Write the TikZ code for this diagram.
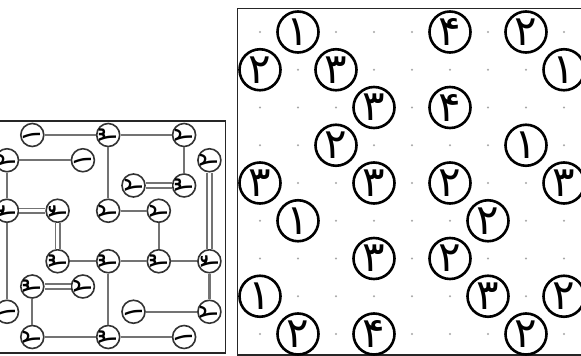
\documentclass[tikz,border=0pt]{standalone}
\usepackage{fontspec}
\newfontfamily\fadigits[Script=Arabic]{DejaVu Sans}
\usetikzlibrary{positioning}

\tikzset{
  frame/.style={draw=black!85, line width=1.3pt},
  isle/.style={circle, draw=black, line width=2.6pt, fill=white, minimum size=41pt, inner sep=0pt, font=\fadigits\fontsize{42}{42}\selectfont},
  solisle/.style={circle, draw=black!80, line width=1.6pt, fill=white, minimum size=23pt, inner sep=0pt, rotate=90, font=\fadigits\fontsize{27}{27}\selectfont},
  gridpt/.style={fill=black!35},
  bridge/.style={draw=black!55, line width=2.2pt},
  dblbridge/.style={draw=black!55, line width=1.7pt, double=white, double distance=2.8pt}
}

\begin{document}
\begin{tikzpicture}[x=1pt, y=-1pt]
  \useasboundingbox (0,0) rectangle (581,356);
  \fill[white] (0,0) rectangle (581,356);

  % solved grid (left)
  \begin{scope}[shift={(7pt,-135pt)}, x=25.3pt, y=-25.25pt]
    \draw[frame] (-0.66,-0.55) rectangle (8.64,8.63);
    \foreach \R/\C/\d in {7/0/۱, 3/0/۴, 1/0/۲, 8/1/۲, 6/1/۳, 0/1/۱, 5/2/۳, 3/2/۴,
                          6/3/۲, 1/3/۱, 8/4/۳, 5/4/۳, 3/4/۲, 0/4/۳, 7/5/۱, 2/5/۲,
                          5/6/۳, 3/6/۲, 8/7/۱, 2/7/۳, 0/7/۲, 7/8/۲, 5/8/۴, 1/8/۲}
      \node[solisle] (s\R\C) at (\C,\R) {\d};
    % single bridges
    \foreach \a/\b in {s01/s04, s04/s07, s04/s34, s07/s27, s10/s13, s10/s30,
                       s30/s70, s34/s36, s36/s56, s52/s54, s54/s56, s56/s58,
                       s54/s84, s58/s78, s61/s81, s75/s78, s81/s84, s84/s87}
      \draw[bridge] (\a) -- (\b);
    % double bridges
    \foreach \a/\b in {s18/s58, s25/s27, s30/s32, s32/s52, s61/s63}
      \draw[dblbridge] (\a) -- (\b);
  \end{scope}

  % puzzle grid (right)
  \begin{scope}[shift={(260pt,-32pt)}, x=38pt, y=-37.75pt]
    \draw[frame] (-0.6,-0.63) rectangle (8.65,8.56);
    \foreach \r in {0,...,8}
      \foreach \c in {0,...,8}
        \fill[gridpt] (\c,\r) circle (1.1pt);
    \foreach \r/\c/\d in {0/1/۱, 0/5/۴, 0/7/۲, 1/0/۲, 1/2/۳, 1/8/۱, 2/3/۳, 2/5/۴,
                          3/2/۲, 3/7/۱, 4/0/۳, 4/3/۳, 4/5/۲, 4/8/۳, 5/1/۱, 5/6/۲,
                          6/3/۳, 6/5/۲, 7/0/۱, 7/6/۳, 7/8/۲, 8/1/۲, 8/3/۴, 8/7/۲}
      \node[isle] (p\r\c) at (\c,\r) {\d};
  \end{scope}
\end{tikzpicture}
\end{document}
